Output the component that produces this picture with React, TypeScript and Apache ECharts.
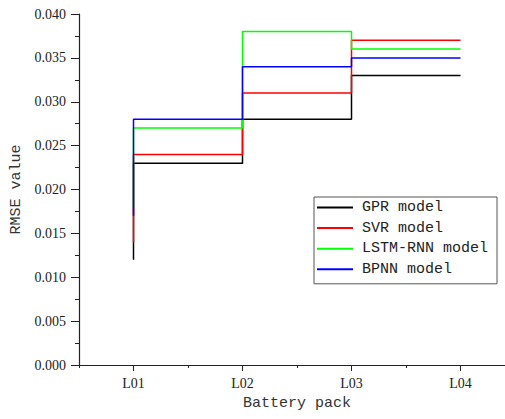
import React, { useEffect, useRef } from "react";
import * as echarts from "echarts";

const categories = ["L01", "L02", "L03", "L04"];
const gprValues = [0.012, 0.023, 0.028, 0.033];
const svrValues = [0.014, 0.024, 0.031, 0.037];
const lstmValues = [0.018, 0.027, 0.038, 0.036];
const bpnnValues = [0.017, 0.028, 0.034, 0.035];
const seriesNames = ["GPR model", "SVR model", "LSTM-RNN model", "BPNN model"];
const seriesColors = ["#000000", "#ff0000", "#00ff00", "#0000ff"];

export default function App() {
  const ref = useRef<HTMLDivElement>(null);
  useEffect(() => {
    document.body.style.margin = "0";
    if (!ref.current) return;
    const chart = echarts.init(ref.current, null, { renderer: "svg" });
    const allValues = [gprValues, svrValues, lstmValues, bpnnValues];
    const mono = "Liberation Mono";
    const serif = "Liberation Serif";
    chart.setOption({
      animation: false,
      backgroundColor: "#ffffff",
      textStyle: { fontFamily: serif },
      grid: { left: 79, top: 14, bottom: 54, right: -10, containLabel: false, outerBoundsMode: "none" },
      legend: {
        orient: "vertical",
        left: 314,
        top: 197,
        icon: "rect",
        itemWidth: 36,
        itemHeight: 2,
        itemGap: 5.6,
        borderColor: "#555",
        borderWidth: 1,
        padding: [3, 9, 7, 3],
        textStyle: { fontFamily: mono, fontSize: 15, color: "#222", lineHeight: 15, padding: [0, 0, 0, 4] },
        data: seriesNames,
      },
      xAxis: [
        {
          type: "category",
          data: categories,
          boundaryGap: true,
          name: "Battery pack",
          nameLocation: "middle",
          nameGap: 31,
          nameTextStyle: { fontFamily: mono, fontSize: 15, color: "#333" },
          axisLine: { show: true, lineStyle: { color: "#222", width: 1.2 } },
          axisTick: { show: true, alignWithLabel: true, length: 6, lineStyle: { color: "#222" } },
          axisLabel: { fontFamily: serif, fontSize: 14, color: "#222", margin: 11 },
          splitLine: { show: false },
        },
        {
          type: "category",
          data: categories,
          boundaryGap: true,
          position: "bottom",
          axisLine: { show: false },
          axisTick: { show: true, length: 3, lineStyle: { color: "#222" } },
          axisLabel: { show: false },
          splitLine: { show: false },
        },
      ],
      yAxis: {
        type: "value",
        min: 0,
        max: 0.04,
        interval: 0.005,
        name: "RMSE value",
        nameLocation: "middle",
        nameGap: 53,
        nameTextStyle: { fontFamily: mono, fontSize: 15, color: "#333" },
        axisLine: { show: true, lineStyle: { color: "#222", width: 1.2 } },
        axisTick: { show: true, length: 8, lineStyle: { color: "#222" } },
        minorTick: { show: true, splitNumber: 2, length: 4, lineStyle: { color: "#222" } },
        axisLabel: {
          fontFamily: serif,
          fontSize: 14,
          color: "#222",
          margin: 13,
          formatter: (v: number) => v.toFixed(3),
        },
        splitLine: { show: false },
      },
      series: allValues.map((vals, i) => ({
        name: seriesNames[i],
        type: "line",
        step: "start",
        data: vals,
        symbol: "none",
        color: seriesColors[i],
        lineStyle: { color: seriesColors[i], width: 1.5 },
        xAxisIndex: 0,
      })),
    });
    return () => chart.dispose();
  }, []);
  return <div ref={ref} style={{ width: 505, height: 419 }} />;
}
